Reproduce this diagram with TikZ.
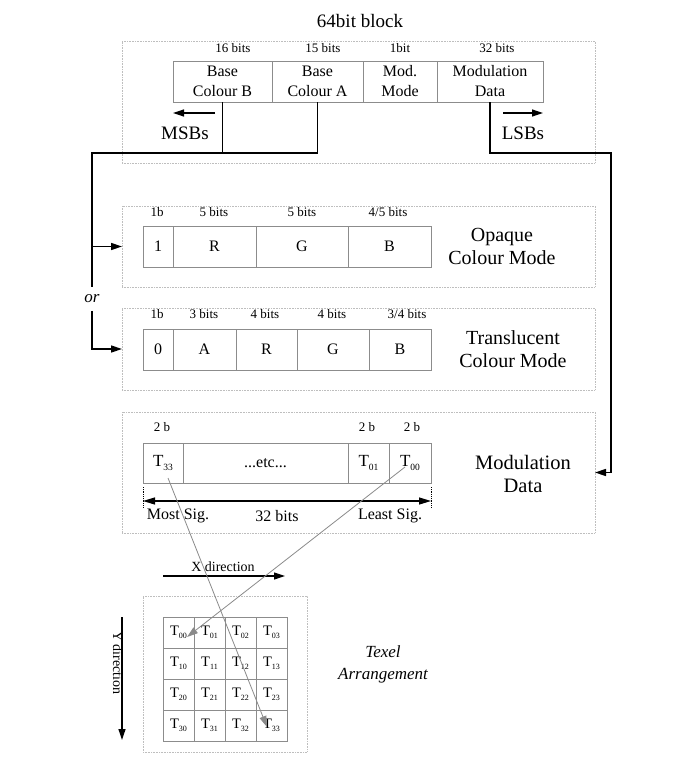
\documentclass[tikz,border=0pt]{standalone}
\usepackage{fontspec}
\setmainfont{Liberation Serif}
\usetikzlibrary{arrows.meta, positioning, calc}

\definecolor{cellgray}{HTML}{8C8C8C}
\definecolor{framegray}{HTML}{BEBEBE}
\definecolor{arrowgray}{HTML}{8A8A8A}

\newcommand{\tsub}[2]{T\raisebox{-0.45ex}{\fontsize{#2}{#2}\selectfont #1}}

\tikzset{
  cell/.style={draw=cellgray, line width=0.8pt, inner sep=0pt, outer sep=0pt,
    minimum height=41pt, align=center, font=\fontsize{16}{20}\selectfont},
  gcell/.style={cell, minimum width=31pt, minimum height=31pt,
    font=\fontsize{14.5}{16}\selectfont},
  frame/.style={draw=framegray, densely dotted, line width=0.6pt,
    inner sep=0pt, outer sep=0pt, anchor=north west},
  bits/.style={font=\fontsize{13}{14}\selectfont, inner sep=0pt},
  big/.style={align=center, font=\fontsize{20}{23}\selectfont},
  wire/.style={line width=1.6pt},
  conn/.style={wire, -{Triangle[length=11pt,width=7pt]}},
  texel/.style={draw=arrowgray, line width=0.8pt,
    -{Triangle[length=11pt,width=7pt]}},
}

\begin{document}
\begin{tikzpicture}[x=1pt, y=-1pt]
  \useasboundingbox (0,0) rectangle (688,768);

  % 64bit block
  \node[big, font=\fontsize{19}{22}\selectfont] (title) at (360,21) {64bit block};
  \node[frame, minimum width=473pt, minimum height=122pt] (blk) at (122,41) {};
  \node[cell, minimum width=99pt, anchor=north west] (bcb) at (173,61) {Base\\Colour B};
  \node[cell, minimum width=91pt, right=0pt of bcb] (bca) {Base\\Colour A};
  \node[cell, minimum width=74pt, right=0pt of bca] (mmode) {Mod.\\Mode};
  \node[cell, minimum width=106pt, right=0pt of mmode] (mdata) {Modulation\\Data};
  \node[bits] at (233,48) {16 bits};
  \node[bits] at (323,48) {15 bits};
  \node[bits] at (400,48) {1bit};
  \node[bits] at (497,48) {32 bits};

  \coordinate (msbR) at (215,113);
  \coordinate (msbL) at (173,113);
  \coordinate (lsbL) at (503,113);
  \coordinate (lsbR) at (543,113);
  \draw[conn, line width=1.2pt] (msbR) -- (msbL);
  \draw[conn, line width=1.2pt] (lsbL) -- (lsbR);
  \node[big, font=\fontsize{19}{22}\selectfont] (msb) at (185,133) {MSBs};
  \node[big, font=\fontsize{19}{22}\selectfont] (lsb) at (523,133) {LSBs};

  % opaque colour mode
  \node[frame, minimum width=473pt, minimum height=81pt] (opq) at (122,206) {};
  \node[cell, minimum width=30pt, anchor=north west] (o1) at (143,226) {1};
  \node[cell, minimum width=83pt, right=0pt of o1] (oR) {R};
  \node[cell, minimum width=92pt, right=0pt of oR] (oG) {G};
  \node[cell, minimum width=83pt, right=0pt of oG] (oB) {B};
  \node[bits] at (157,212) {1b};
  \node[bits] at (214,212) {5 bits};
  \node[bits] at (302,212) {5 bits};
  \node[bits] at (388,212) {4/5 bits};
  \node[big] (opqlbl) at (502,246.5) {Opaque\\Colour Mode};

  % translucent colour mode
  \node[frame, minimum width=473pt, minimum height=82pt] (trl) at (122,308) {};
  \node[cell, minimum width=30pt, anchor=north west] (l0) at (143,329) {0};
  \node[cell, minimum width=63pt, right=0pt of l0] (lA) {A};
  \node[cell, minimum width=61pt, right=0pt of lA] (lR) {R};
  \node[cell, minimum width=72pt, right=0pt of lR] (lG) {G};
  \node[cell, minimum width=62pt, right=0pt of lG] (lB) {B};
  \node[bits] at (157,314) {1b};
  \node[bits] at (204,314) {3 bits};
  \node[bits] at (265,314) {4 bits};
  \node[bits] at (332,314) {4 bits};
  \node[bits] at (407,314) {3/4 bits};
  \node[big] (trllbl) at (513,349.5) {Translucent\\Colour Mode};

  % modulation data
  \node[frame, minimum width=473pt, minimum height=121pt] (mod) at (122,412) {};
  \node[cell, minimum width=40pt, minimum height=40pt, font=\fontsize{17}{20}\selectfont, anchor=north west] (m33) at (143,443) {\tsub{33}{9.5}};
  \node[cell, minimum width=165pt, minimum height=40pt, right=0pt of m33] (metc) {...etc...};
  \node[cell, minimum width=41pt, minimum height=40pt, font=\fontsize{17}{20}\selectfont, right=0pt of metc] (m01) {\tsub{01}{9.5}};
  \node[cell, minimum width=42pt, minimum height=40pt, font=\fontsize{17}{20}\selectfont, right=0pt of m01] (m00) {\tsub{00}{9.5}};
  \node[bits] at (162,427) {2 b};
  \node[bits] at (367,427) {2 b};
  \node[bits] at (412,427) {2 b};
  \node[big, font=\fontsize{20.5}{23}\selectfont] (modlbl) at (523,474) {Modulation\\Data};

  \draw[densely dotted, line width=0.8pt] (m33.south west) ++(0,4) -- ++(0,20);
  \draw[densely dotted, line width=0.8pt] (m00.south east) ++(0,4) -- ++(0,20);
  \draw[line width=1.2pt, {Triangle[length=12pt,width=7pt]}-{Triangle[length=12pt,width=7pt]}]
    ($(m33.south west)+(0,18)$) -- ($(m00.south east)+(0,18)$);
  \node[cell, draw=none] at (178,516) {Most Sig.};
  \node[cell, draw=none] at (277,516) {32 bits};
  \node[cell, draw=none] at (390,516) {Least Sig.};

  % connectors
  \coordinate (jl) at (92,153);
  \coordinate (jr) at (611,153);
  \node[font=\itshape\fontsize{17}{17}\selectfont, inner xsep=2pt, inner ysep=7.6pt] (orlbl) at (92,299) {or};
  \draw[wire] (bca.south) |- (jl) -- (orlbl.north);
  \draw[wire] (bcb.south) -- (bcb.south |- jl);
  \draw[conn] (jl |- opq.west) -- (opq.west);
  \draw[conn] (orlbl.south) |- (trl.west);
  \draw[conn] (mdata.south) |- (jr) |- (mod.east);

  % texel arrangement
  \node[frame, minimum width=164pt, minimum height=156pt] (grid) at (143,596) {};
  \foreach \r in {0,...,3} {
    \foreach \c in {0,...,3} {
      \node[gcell] (g\r\c) at ({178.5+31*\c},{632.5+31*\r}) {\tsub{\r\c}{8}};
    }
  }
  \coordinate (xa) at (163,576);
  \coordinate (xb) at (285,576);
  \draw[conn, line width=1.2pt] (xa) -- (xb);
  \node[font=\fontsize{14}{16}\selectfont, anchor=south, inner sep=2pt] (xdir) at (223,574) {X direction};
  \coordinate (ya) at (122,617);
  \coordinate (yb) at (122,740);
  \draw[conn, line width=1.2pt] (ya) -- (yb);
  \node[font=\fontsize{14}{16}\selectfont, rotate=-90] (ydir) at (118,663) {Y direction};
  \node[align=center, font=\itshape\fontsize{17}{22}\selectfont] (texlbl) at (383,664) {Texel\\Arrangement};

  \draw[texel] ($(m33.center)+(5,15)$) -- ($(g33.center)+(-4.5,1.5)$);
  \draw[texel] ($(m00.center)+(-5,4)$) -- ($(g00.center)+(8.5,4.5)$);
\end{tikzpicture}
\end{document}
